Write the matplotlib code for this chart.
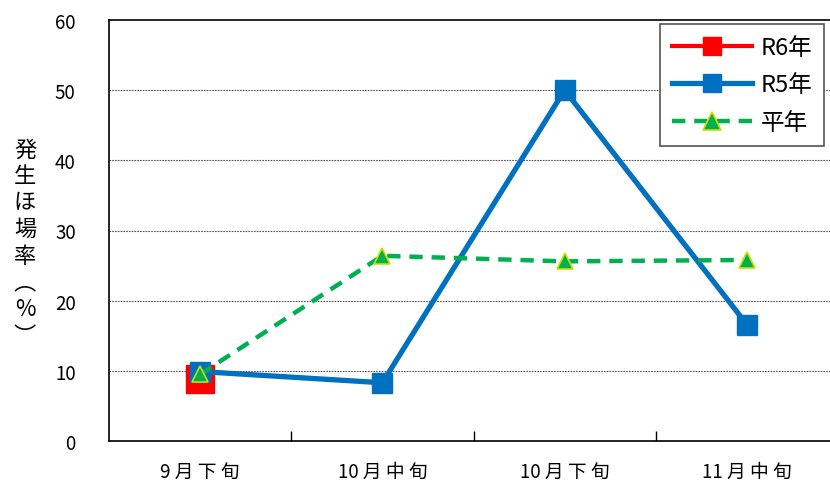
import matplotlib
matplotlib.use("Agg")
import matplotlib.pyplot as plt
from matplotlib.ticker import FixedLocator

plt.rcParams['font.family'] = ['Noto Sans CJK JP', 'DejaVu Sans']

categories = ["9月下旬", "10月中旬", "10月下旬", "11月中旬"]
r6 = [8.8]
r5 = [9.9, 8.3, 50.0, 16.6]
heinen = [9.5, 26.4, 25.6, 25.8]
yticks = [0, 10, 20, 30, 40, 50, 60]


def spaced(label):
    # put a small gap before each kanji so the labels read loosely
    out = ""
    for i, ch in enumerate(label):
        if i > 0 and not ch.isdigit():
            out += " "
        out += ch
    return out


fig = plt.figure(figsize=(8.30, 4.81), dpi=100)
ax = fig.add_axes([109 / 830, 1 - 442 / 481, 729 / 830, 421 / 481])

x = list(range(len(categories)))

ax.plot(x[:len(r6)], r6, color="#ff0000", lw=3, marker="s", ms=20,
        mfc="#ff0000", mec="#ff0000", label="R6年", zorder=3)
ax.plot(x, r5, color="#0070c0", lw=3.8, marker="s", ms=14,
        mfc="#0070c0", mec="#0070c0", label="R5年", zorder=4)
ax.plot(x, heinen, color="#00b050", lw=3.2, ls=(0, (3, 2)), marker="^", ms=12,
        mfc="#00b050", mec="#c8e000", mew=1.2, label="平年", zorder=5)

ax.set_xlim(-0.5, 3.5)
ax.set_ylim(0, 60)
ax.set_yticks(yticks)
ax.set_yticklabels([str(v) for v in yticks], fontsize=13.5)
ax.tick_params(axis="y", length=0, pad=24)

ax.set_xticks(x)
ax.set_xticklabels([spaced(c) for c in categories], fontsize=13.5)
ax.tick_params(axis="x", which="major", length=0, pad=14)
ax.xaxis.set_minor_locator(FixedLocator([0.5, 1.5, 2.5]))
ax.tick_params(axis="x", which="minor", direction="in", length=7, width=1, color="black")

for v in yticks[1:-1]:
    ax.axhline(v, color="#555555", lw=0.8, ls=(0, (1.5, 1)), zorder=1)

for s in ax.spines.values():
    s.set_color("black")
    s.set_linewidth(1.2)

leg = ax.legend(loc="upper right", bbox_to_anchor=(824 / 830, 1 - 25 / 481),
                bbox_transform=fig.transFigure, fontsize=17, frameon=True,
                fancybox=False, edgecolor="#555555", framealpha=1,
                handlelength=3.4, borderpad=0.5, labelspacing=0.62, handletextpad=0.35,
                borderaxespad=0)
leg.get_frame().set_linewidth(1.2)
for h in leg.legend_handles:
    h.set_markersize(13)

fig.text(25 / 830, 1 - 243 / 481, "発\n生\nほ\n場\n率\n︵\n%\n︶", ha="center", va="center",
         fontsize=16, linespacing=1.2)

fig.savefig("out.png", dpi=100)
